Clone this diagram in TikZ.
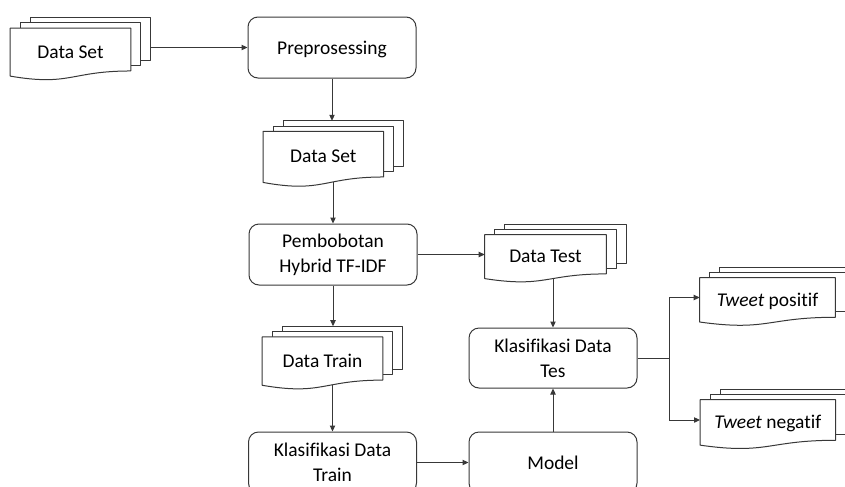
\documentclass[tikz,border=0pt]{standalone}
\usepackage{fontspec}
\setmainfont{Carlito}[Ligatures=NoCommon]
\usetikzlibrary{arrows.meta,calc}
\pgfdeclarelayer{paper}
\pgfdeclarelayer{links}
\pgfdeclarelayer{sheets}
\pgfsetlayers{paper,links,sheets,main}

\tikzset{
  ink/.style={draw=black!78, line width=0.75pt},
  box/.style={ink, fill=white, rounded corners=7.5pt, minimum width=126pt,
    minimum height=45.75pt, align=center, inner sep=0pt},
  doc/.style={minimum width=90pt, inner sep=0pt, text height=13pt, text depth=0pt},
  sheet/.style={ink, fill=white, line join=round},
  link/.style={ink, -{Triangle[length=4.5pt,width=4pt]}},
}

% stacked document symbol drawn behind a text node: two offset sheets and a
% front sheet with a wavy lower edge
\newcommand\docsheets[1]{%
  \begin{pgfonlayer}{sheets}
    \foreach \k in {2,1}{%
      \draw[sheet] ($(#1.north west)+(\k*7.5pt,\k*4pt)$) rectangle
                   ($(#1.south east)+(\k*7.5pt,\k*4pt)$);
    }
    \draw[sheet] (#1.north west) -- (#1.north east) -- (#1.south east)
      .. controls (#1.south) and ($(#1.south)!-0.36!(#1.north)$)
      .. ($(#1.south west)!-0.12!(#1.north west)$) -- cycle;
  \end{pgfonlayer}}

\begin{document}
\begin{tikzpicture}[x=0.75pt, y=-0.75pt, font=\fontsize{14.6}{18.5}\selectfont]
\useasboundingbox (0,0) rectangle (845,486);
\begin{pgfonlayer}{paper}
  \fill[white] (0,0) rectangle (845,486);
\end{pgfonlayer}

% process boxes
\node[box, text depth=0pt] (pre) at (332,47.5) {Preprosessing};
\node[box] (pemb) at (333,254.5) {Pembobotan\\Hybrid TF-IDF};
\node[box, minimum height=45pt] (kdtes) at (553,358) {Klasifikasi Data\\Tes};
\node[box] (kdtrain) at (332.5,462.5) {Klasifikasi Data\\Train};
\node[box] (model) at (553,462.5) {Model};

% document nodes
\node[doc, minimum height=31.8pt] (ds1) at (70.5,49.5) {Data Set};
\node[doc, minimum height=33.75pt] (ds2) at (323.3,154.2) {Data Set};
\node[doc, minimum width=90.75pt, minimum height=29pt] (test) at (545.5,254.3) {Data Test};
\node[doc, minimum height=32pt] (train) at (322.5,358.5) {Data Train};
\node[doc, minimum width=101.25pt, minimum height=29.25pt] (tpos) at (767.5,297.5) {\textit{Tweet} positif};
\node[doc, minimum width=101.25pt, minimum height=30pt] (tneg) at (767.8,420) {\textit{Tweet} negatif};

\docsheets{ds1}
\docsheets{ds2}
\docsheets{test}
\docsheets{train}
\docsheets{tpos}
\docsheets{tneg}

% connectors
\begin{pgfonlayer}{links}
  \draw[link] (pre.west -| ds1.center) -- (pre.west);
  \draw[link] (pre.south) -- ($(pre.south |- ds2.north)+(0,8pt)$);
  \draw[link] (pemb.north |- ds2.center) -- (pemb.north);
  \draw[link] (pemb.south) -- ($(pemb.south |- train.north)+(0,8pt)$);
  \draw[link] (pemb.east) -- (pemb.east -| test.west);
  \draw[link] (kdtrain.north |- train.center) -- (kdtrain.north);
  \draw[link] (kdtrain.east) -- (model.west);
  \draw[link] (model.north) -- (kdtes.south);
  \draw[link] (kdtes.north |- test.center) -- (kdtes.north);
  \coordinate (split) at ($(kdtes.east)+(24pt,0)$);
  \draw[link] (kdtes.east) -- (split) |- (tpos.west);
  \draw[link] (split) |- (tneg.west);
\end{pgfonlayer}
\end{tikzpicture}
\end{document}
